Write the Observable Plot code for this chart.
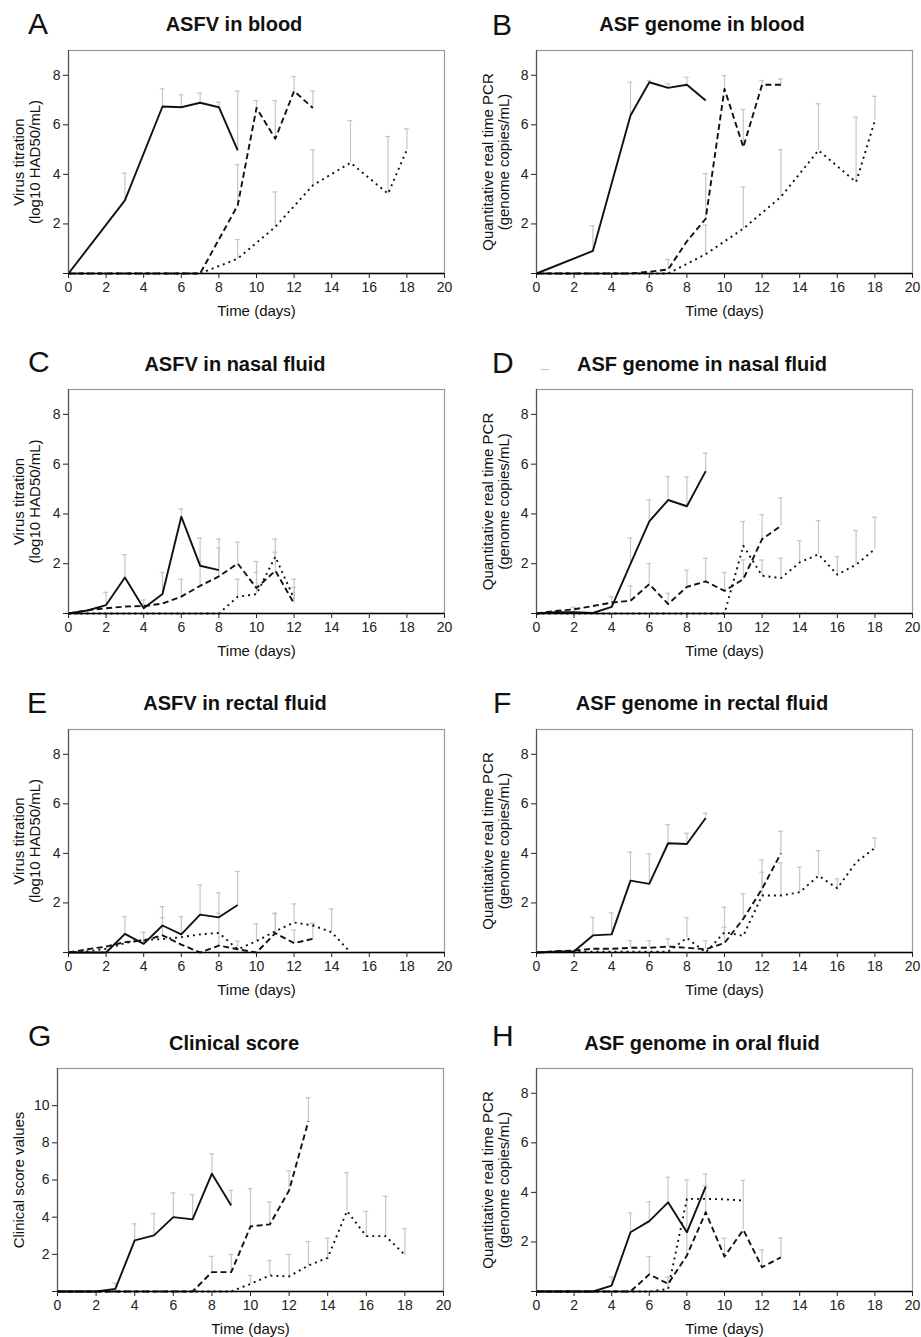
<!DOCTYPE html>
<html><head><meta charset="utf-8">
<script src="https://cdn.jsdelivr.net/npm/d3@7"></script>
<script src="https://cdn.jsdelivr.net/npm/@observablehq/plot@0.6"></script>
<style>
body{margin:0;background:#fff;}
#root{position:relative;width:921px;height:1337px;overflow:hidden;font-family:"Liberation Sans",Arial,sans-serif;color:#111;background:#fff;}
.letter{position:absolute;font-size:30px;line-height:1;}
.title{position:absolute;font-size:20px;font-weight:bold;line-height:1;transform:translateX(-50%);white-space:nowrap;}
.chart{position:absolute;}
.stray{position:absolute;font-size:14px;line-height:1;color:#c8c8c8;}
</style></head><body><div id="root"></div>
<script>
// ---- tick labels ----
const xTicks = [0,2,4,6,8,10,12,14,16,18,20];
const yTicks = [0,2,4,6,8];
const yTicksClinical = [0,2,4,6,8,10];

// ---- A: ASFV in blood ----
const A_solid_day = [0,3,5,6,7,8,9];
const A_solid_val = [0,2.95,6.74,6.71,6.89,6.71,4.97];
const A_solid_up  = [null,4.05,7.45,7.21,7.28,6.91,7.36];
const A_dash_day = [0,3,5,6,7,9,10,11,12,13];
const A_dash_val = [0,0,0,0,0,2.75,6.68,5.44,7.36,6.68];
const A_dash_up  = [null,null,null,null,null,4.39,6.98,6.98,7.95,7.36];
const A_dot_day = [0,3,5,6,7,9,11,13,15,17,18];
const A_dot_val = [0,0,0,0,0,0.6,1.88,3.56,4.47,3.22,5.0];
const A_dot_up  = [null,null,null,null,null,1.37,3.29,4.99,6.17,5.53,5.84];

// ---- B: ASF genome in blood ----
const B_solid_day = [0,3,5,6,7,8,9];
const B_solid_val = [0,0.91,6.38,7.72,7.49,7.62,6.98];
const B_solid_up  = [null,1.93,7.72,7.79,7.65,7.92,null];
const B_dash_day = [0,3,5,6,7,8,9,10,11,12,13];
const B_dash_val = [0,0,0,0.07,0.16,1.3,2.21,7.45,5.1,7.62,7.62];
const B_dash_up  = [null,null,null,null,0.56,null,4.03,7.99,6.62,7.79,7.85];
const B_dot_day = [0,3,5,6,7,9,11,13,15,17,18];
const B_dot_val = [0,0,0,0,0,0.78,1.81,3.09,4.97,3.69,6.17];
const B_dot_up  = [null,null,null,null,null,1.95,3.49,4.99,6.85,6.31,7.15];

// ---- C: ASFV in nasal fluid ----
const C_solid_day = [0,1,2,3,4,5,6,7,8];
const C_solid_val = [0,0.12,0.34,1.45,0.21,0.78,3.89,1.92,1.74];
const C_solid_up  = [null,null,0.85,2.36,0.54,1.65,4.2,3.03,2.99];
const C_dash_day = [0,1,2,3,4,5,6,7,8,9,10,11,12];
const C_dash_val = [0,0.13,0.21,0.28,0.3,0.4,0.68,1.11,1.49,2.01,1.02,1.72,0.4];
const C_dash_up  = [null,null,null,null,null,null,1.38,2.08,2.63,2.86,2.09,2.99,1.38];
const C_dot_day = [0,1,2,3,4,5,6,7,8,9,10,11,12];
const C_dot_val = [0,0,0,0,0,0,0,0,0,0.67,0.78,2.28,0.6];
const C_dot_up  = [null,null,null,null,null,null,null,null,null,1.38,1.65,2.46,1.05];

// ---- D: ASF genome in nasal fluid ----
const D_solid_day = [0,1,2,3,4,5,6,7,8,9];
const D_solid_val = [0,0.05,0.05,0.02,0.27,1.99,3.7,4.56,4.31,5.72];
const D_solid_up  = [null,null,0.25,null,0.67,3.03,4.56,5.5,5.48,6.44];
const D_dash_day = [0,1,2,3,4,5,6,7,8,9,10,11,12,13];
const D_dash_val = [0,0.1,0.17,0.3,0.44,0.51,1.18,0.38,1.07,1.29,0.91,1.38,2.99,3.52];
const D_dash_up  = [null,null,null,null,null,1.11,2.01,0.81,1.74,2.22,1.65,2.15,3.97,4.64];
const D_dot_day = [0,1,2,3,4,5,6,7,8,9,10,11,12,13,14,15,16,17,18];
const D_dot_val = [0,0,0,0,0,0,0,0,0,0,0,2.72,1.52,1.42,2.05,2.38,1.56,1.96,2.59];
const D_dot_up  = [null,null,null,null,null,null,null,null,null,null,null,3.7,2.15,2.22,2.93,3.73,2.28,3.33,3.87];

// ---- E: ASFV in rectal fluid ----
const E_solid_day = [0,1,2,3,4,5,6,7,8,9];
const E_solid_val = [0,0,0,0.75,0.35,1.09,0.73,1.53,1.42,1.92];
const E_solid_up  = [null,null,null,1.45,0.82,1.85,1.45,2.73,2.41,3.27];
const E_dash_day = [0,1,2,3,4,5,6,7,8,9,10,11,12,13];
const E_dash_val = [0,0.13,0.24,0.42,0.48,0.69,0.32,0,0.28,0.13,0,0.78,0.38,0.55];
const E_dash_up  = [null,null,null,null,null,1.4,null,null,1.59,0.46,null,1.56,0.91,1.16];
const E_dot_day = [0,1,2,3,4,5,6,7,8,9,10,11,12,13,14,15];
const E_dot_val = [0,0.05,0.15,0.38,0.51,0.54,0.62,0.73,0.79,0.13,0.46,0.86,1.21,1.09,0.82,0];
const E_dot_up  = [null,null,null,null,null,null,null,null,null,null,1.16,1.59,1.96,1.18,1.76,null];

// ---- F: ASF genome in rectal fluid ----
const F_solid_day = [0,1,2,3,4,5,6,7,8,9];
const F_solid_val = [0,0.03,0.05,0.69,0.73,2.9,2.77,4.41,4.38,5.43];
const F_solid_up  = [null,null,null,1.42,1.6,4.05,3.98,5.16,4.81,5.62];
const F_dash_day = [0,1,2,3,4,5,6,7,8,9,10,11,12,13];
const F_dash_val = [0,0.05,0.08,0.15,0.15,0.19,0.19,0.24,0.19,0.13,0.38,1.36,2.57,4.0];
const F_dash_up  = [null,null,null,null,null,0.48,0.48,0.55,null,0.48,1.83,2.37,3.74,4.89];
const F_dot_day = [0,1,2,3,4,5,6,7,8,9,10,11,12,13,14,15,16,17,18];
const F_dot_val = [0,0.03,0.03,0.03,0.03,0.03,0.03,0.03,0.59,0,0.82,0.67,2.3,2.3,2.43,3.1,2.59,3.64,4.22];
const F_dot_up  = [null,null,null,null,null,null,null,null,1.4,null,1.02,null,3.24,3.62,3.44,4.11,2.97,null,4.62];

// ---- G: Clinical score ----
const G_solid_day = [0,2,3,4,5,6,7,8,9];
const G_solid_val = [0,0,0.14,2.75,3.02,4.0,3.88,6.34,4.63];
const G_solid_up  = [null,null,0.45,3.64,4.18,5.31,5.21,7.41,5.44];
const G_dash_day = [0,2,3,4,5,6,7,8,9,10,11,12,13];
const G_dash_val = [0,0,0,0,0,0,0,1.04,1.04,3.5,3.61,5.44,9.17];
const G_dash_up  = [null,null,null,null,null,null,null,1.89,1.99,5.53,4.81,6.48,10.43];
const G_dot_day = [0,2,3,4,5,6,7,8,9,10,11,12,13,14,15,16,17,18];
const G_dot_val = [0,0,0,0,0,0,0,0,0,0.41,0.86,0.81,1.4,1.81,4.33,2.98,2.98,1.97];
const G_dot_up  = [null,null,null,null,null,null,null,null,null,0.86,1.67,1.99,2.69,2.87,6.39,4.31,5.12,3.38];

// ---- H: ASF genome in oral fluid ----
const H_solid_day = [0,3,4,5,6,7,8,9];
const H_solid_val = [0,0,0.24,2.39,2.84,3.6,2.39,4.23];
const H_solid_up  = [null,null,0.58,3.17,3.62,4.61,null,4.74];
const H_dash_day = [0,3,4,5,6,7,8,9,10,11,12,13];
const H_dash_val = [0,0,0,0,0.69,0.31,1.45,3.2,1.41,2.49,0.98,1.38];
const H_dash_up  = [null,null,null,null,1.41,null,4.5,4.27,2.15,4.48,1.68,2.16];
const H_dot_day = [0,3,4,5,6,7,8,9,10,11];
const H_dot_val = [0,0,0,0,0,0.1,3.74,3.74,3.72,3.67];
const H_dot_up  = [null,null,null,null,null,0.58,null,null,null,null];

const titles = {
  A:"ASFV in blood", B:"ASF genome in blood", C:"ASFV in nasal fluid", D:"ASF genome in nasal fluid",
  E:"ASFV in rectal fluid", F:"ASF genome in rectal fluid", G:"Clinical score", H:"ASF genome in oral fluid"
};
const yLabels = {
  titration:"Virus titration\n(log10 HAD50/mL)",
  pcr:"Quantitative real time PCR\n(genome copies/mL)",
  clinical:"Clinical score values"
};
const xLabel = "Time (days)";

// ---- layout (page pixels) ----
const styles = {solid:null, dash:"6,3.5", dot:"2,4"};
function ser(day, val, up, kind){ return {day, val, up, kind}; }
const panels = [
  {id:"A", col:0, frame:[68,444,50,273], yMax:9, ticks:yTicks, yl:yLabels.titration, yldx:-41.5,
   letter:[28,9], title:[234,14], series:[ser(A_solid_day,A_solid_val,A_solid_up,"solid"),ser(A_dash_day,A_dash_val,A_dash_up,"dash"),ser(A_dot_day,A_dot_val,A_dot_up,"dot")]},
  {id:"B", col:1, frame:[536,912,50,273], yMax:9, ticks:yTicks, yl:yLabels.pcr, yldx:-40.5,
   letter:[492,10], title:[702,14], series:[ser(B_solid_day,B_solid_val,B_solid_up,"solid"),ser(B_dash_day,B_dash_val,B_dash_up,"dash"),ser(B_dot_day,B_dot_val,B_dot_up,"dot")]},
  {id:"C", col:0, frame:[68,444,389,613], yMax:9, ticks:yTicks, yl:yLabels.titration, yldx:-41.5,
   letter:[28,347], title:[235,354], series:[ser(C_solid_day,C_solid_val,C_solid_up,"solid"),ser(C_dash_day,C_dash_val,C_dash_up,"dash"),ser(C_dot_day,C_dot_val,C_dot_up,"dot")]},
  {id:"D", col:1, frame:[536,912,389,613], yMax:9, ticks:yTicks, yl:yLabels.pcr, yldx:-40.5,
   letter:[492,348], title:[702,354], series:[ser(D_solid_day,D_solid_val,D_solid_up,"solid"),ser(D_dash_day,D_dash_val,D_dash_up,"dash"),ser(D_dot_day,D_dot_val,D_dot_up,"dot")]},
  {id:"E", col:0, frame:[68,444,729,952], yMax:9, ticks:yTicks, yl:yLabels.titration, yldx:-41.5,
   letter:[27,688], title:[235,693], series:[ser(E_solid_day,E_solid_val,E_solid_up,"solid"),ser(E_dash_day,E_dash_val,E_dash_up,"dash"),ser(E_dot_day,E_dot_val,E_dot_up,"dot")]},
  {id:"F", col:1, frame:[536,912,729,952], yMax:9, ticks:yTicks, yl:yLabels.pcr, yldx:-40.5,
   letter:[493,688], title:[702,693], series:[ser(F_solid_day,F_solid_val,F_solid_up,"solid"),ser(F_dash_day,F_dash_val,F_dash_up,"dash"),ser(F_dot_day,F_dot_val,F_dot_up,"dot")]},
  {id:"G", col:0, frame:[57,443,1068,1291], yMax:12, ticks:yTicksClinical, yl:yLabels.clinical, yldx:-39,
   letter:[28,1021], title:[234,1033], series:[ser(G_solid_day,G_solid_val,G_solid_up,"solid"),ser(G_dash_day,G_dash_val,G_dash_up,"dash"),ser(G_dot_day,G_dot_val,G_dot_up,"dot")]},
  {id:"H", col:1, frame:[536,912,1068,1291], yMax:9, ticks:yTicks, yl:yLabels.pcr, yldx:-40.5,
   letter:[492,1021], title:[702,1033], series:[ser(H_solid_day,H_solid_val,H_solid_up,"solid"),ser(H_dash_day,H_dash_val,H_dash_up,"dash"),ser(H_dot_day,H_dot_val,H_dot_up,"dot")]}
];

const root = document.getElementById("root");
const FONT = "'Liberation Sans', Arial, sans-serif";

function addDiv(cls, text, left, top){
  const d = document.createElement("div");
  d.className = cls; d.textContent = text;
  d.style.left = left + "px"; d.style.top = top + "px";
  root.appendChild(d);
  return d;
}

for (const p of panels) {
  const [fl, fr, ft, fb] = p.frame;
  const svgLeft = p.col * 460, svgTop = ft - 10;
  const W = 460, mt = 10, mb = 62;
  const H = (fb - ft) + mt + mb;
  const errs = [];
  const lines = [];
  for (const s of p.series) {
    const rows = s.day.map((d, j) => ({day:d, v:s.val[j], hi:s.up[j]}));
    rows.forEach(r => { if (r.hi != null) errs.push(r); });
    lines.push(Plot.line(rows, {x:"day", y:"v", stroke:"#111", strokeWidth:1.9,
      strokeDasharray: styles[s.kind] || undefined, strokeLinecap:"butt", strokeLinejoin:"round"}));
  }
  const chart = Plot.plot({
    width: W, height: H,
    marginLeft: fl - svgLeft, marginRight: svgLeft + W - fr, marginTop: mt, marginBottom: mb,
    style: {fontFamily: FONT, fontSize: "14px", color: "#222", background: "transparent", overflow: "visible"},
    x: {domain: [0, 20]},
    y: {domain: [0, p.yMax]},
    marks: [
      Plot.frame({stroke:"#9a9a9a", strokeWidth:1.2}),
      Plot.ruleX(errs, {x:"day", y1:"v", y2:"hi", stroke:"#c6c6c6", strokeWidth:1.2}),
      Plot.ruleY(errs, {y:"hi", x1:d => d.day - 0.13, x2:d => d.day + 0.13, stroke:"#c6c6c6", strokeWidth:1.2}),
      ...lines,
      Plot.ruleX([0], {stroke:"#555", strokeWidth:1.2}),
      Plot.ruleY([0], {stroke:"#000", strokeWidth:1.5}),
      Plot.axisX(xTicks, {tickSize:5, tickPadding:4, label:null, fontSize:14}),
      Plot.axisY(p.ticks, {tickSize:5, tickPadding:3, label:null, fontSize:14,
        tickFormat: d => d === 0 ? "" : String(d)}),
      Plot.text([p.yl], {text:d => d, frameAnchor:"left", textAnchor:"middle", lineAnchor:"middle",
        rotate:-90, dx:p.yldx, fontSize:15, lineHeight:1.07, fill:"#111"}),
      Plot.text([xLabel], {text:d => d, frameAnchor:"bottom", textAnchor:"middle", lineAnchor:"middle",
        dy:38, fontSize:15, fill:"#111"})
    ]
  });
  chart.classList.add("chart");
  chart.style.left = svgLeft + "px";
  chart.style.top = svgTop + "px";
  root.appendChild(chart);
  addDiv("letter", p.id, p.letter[0], p.letter[1]);
  addDiv("title", titles[p.id], p.title[0], p.title[1]);
}
addDiv("stray", "_", 541, 355);
</script>
</body></html>
